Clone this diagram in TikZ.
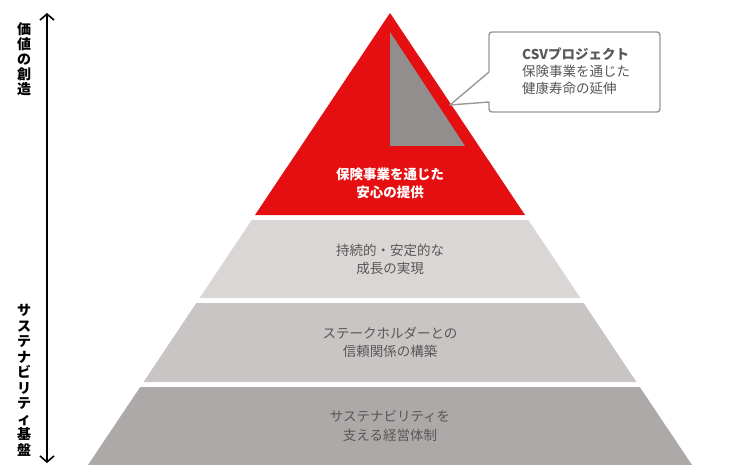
\documentclass[tikz,border=0pt]{standalone}
\usepackage{fontspec}
\setmainfont{Noto Sans CJK JP}
\usetikzlibrary{arrows.meta}
\definecolor{pyred}{HTML}{E50F12}
\definecolor{tiertwo}{HTML}{DAD6D5}
\definecolor{tierthree}{HTML}{C9C5C4}
\definecolor{tierfour}{HTML}{ADA9A8}
\definecolor{innergray}{HTML}{928E8D}
\definecolor{txtgray}{HTML}{595757}
\definecolor{boxgray}{HTML}{9A9898}
\begin{document}
\begin{tikzpicture}[x=1pt,y=-1pt,
  tiertext/.style={align=center,text=txtgray,font=\fontsize{13.5}{18.5}\selectfont,inner sep=0pt},
  redtext/.style={align=center,text=white,font=\fontsize{13.5}{18}\selectfont\bfseries,inner sep=0pt},
  vtext/.style={align=center,text=black,font=\fontsize{14}{15}\selectfont\bfseries,inner sep=0pt},
  calltext/.style={align=left,text=txtgray,font=\fontsize{13.5}{17}\selectfont,inner sep=0pt,anchor=west}]
\useasboundingbox (0,0) rectangle (730,465);
% tiers
\fill[pyred] (390,13) -- (525,215) -- (255,215) -- cycle;
\fill[innergray] (390,32) -- (465,146) -- (390,146) -- cycle;
\fill[tiertwo] (251.7,220) -- (528.3,220) -- (580.4,298) -- (199.6,298) -- cycle;
\fill[tierthree] (196.3,303) -- (583.7,303) -- (636.5,382) -- (143.5,382) -- cycle;
\fill[tierfour] (140.2,387) -- (639.8,387) -- (692,465) -- (88,465) -- cycle;
% texts
\node[redtext] (t1) at (390,183) {保険事業を通じた\\安心の提供};
\node[tiertext] (t2) at (390,259.5) {持続的・安定的な\\成長の実現};
\node[tiertext] (t3) at (390,342.5) {ステークホルダーとの\\信頼関係の構築};
\node[tiertext] (t4) at (390,426) {サステナビリティを\\支える経営体制};
% callout
\draw[boxgray,line width=1.4pt,fill=white,line join=round]
  (489,72) -- (450,105) -- (489,102) [rounded corners=3pt] -- (489,112) -- (660,112) -- (660,32) -- (489,32) [sharp corners] -- cycle;
\node[calltext] (c1) at (522,71) {\textbf{CSVプロジェクト}\\保険事業を通じた\\健康寿命の延伸};
% left axis
\coordinate (atop) at (47,13);
\coordinate (abot) at (47,463);
\draw[line width=1.8pt,{Straight Barb[length=6pt,width=14pt,line width=1.6pt]}-{Straight Barb[length=6pt,width=14pt,line width=1.6pt]}] (atop) -- (abot);
\node[vtext] (v1) at (24,59.5) {価\\値\\の\\創\\造};
\node[vtext,font=\fontsize{14}{15.5}\selectfont\bfseries] (v2) at (24,380.5) {サ\\ス\\テ\\ナ\\ビ\\リ\\テ\\ィ\\基\\盤};
\end{tikzpicture}
\end{document}
